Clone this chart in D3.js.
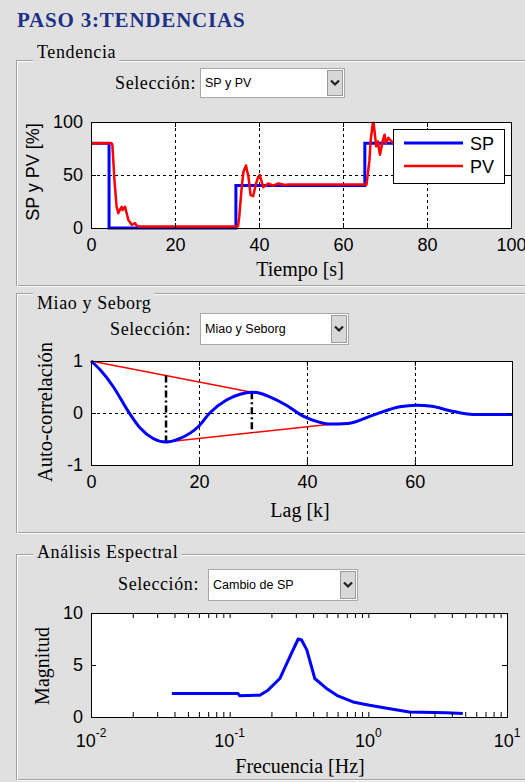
<!DOCTYPE html>
<html>
<head>
<meta charset="utf-8">
<script src="https://cdn.jsdelivr.net/npm/d3@7"></script>
<style>
  body { margin: 0; background: #e0e0e0; }
</style>
</head>
<body>
<div id="canvas"></div>
<script>
// --- Tendencia: SP and PV over time ---
const spTime  = [0, 4.3, 4.3, 34.5, 34.5, 65.2, 65.2, 92];
const spValue = [80, 80, 0, 0, 40, 40, 80, 80];

const pvTime  = [0, 4.9, 5.1, 5.6, 6.1, 6.5, 7.0, 7.3, 7.5, 8.1, 8.9, 9.7, 10.5, 10.9, 11.5,
                 35.0, 35.3, 35.9, 36.3, 36.9, 37.5, 38.0, 38.6, 39.3, 39.8, 40.2, 41.0, 42.2,
                 43.4, 44.6, 46.2, 47.0, 65.6, 66.3, 66.6, 67.1, 67.3, 67.9, 68.3, 68.8, 69.5,
                 69.9, 70.2, 70.8, 71.6, 72.5, 74, 76, 78, 80, 85, 92];
const pvValue = [80, 80, 78, 44, 20, 14, 18, 20, 17, 20, 7.5, 3, 4.5, 2, 1.5,
                 1.5, 10.7, 39, 53, 59, 48, 31, 30, 42, 48, 50, 38.4, 42,
                 40, 42, 40.6, 41, 41, 64, 83, 99, 99, 77, 81.6, 69, 83,
                 88, 80, 85, 81.6, 78, 82, 79, 81, 80, 80, 80];

// --- Miao y Seborg: autocorrelation ---
const acfLag = [0, 1.7, 4.1, 6.9, 9.1, 11.5, 13.9, 16.5, 19.9, 22, 25.1, 27.6, 29.8, 31.3,
                33.1, 36.2, 39.3, 42.1, 43.9, 47.6, 52.3, 57.2, 60.3, 63.1, 66.5, 70.8, 78];
const acfValue = [1, 0.83, 0.51, 0.03, -0.29, -0.49, -0.56, -0.49, -0.26, 0, 0.25, 0.36, 0.4, 0.38,
                  0.31, 0.15, -0.06, -0.17, -0.21, -0.2, -0.04, 0.12, 0.15, 0.13, 0.045, -0.03, -0.03];
const upperLag = [0, 29.8];
const upperValue = [1, 0.4];
const lowerLag = [13.9, 45.7];
const lowerValue = [-0.56, -0.2];
const markLag = [13.9, 29.8];
const markTop = [0.72, 0.4];
const markBottom = [-0.56, -0.38];

// --- Análisis Espectral ---
const freq = [0.0383, 0.115, 0.118, 0.165, 0.189, 0.23, 0.272, 0.312, 0.33, 0.36, 0.411,
              0.499, 0.604, 0.775, 1.02, 1.5, 1.98, 3.64, 4.8];
const magnitude = [2.26, 2.26, 2.05, 2.1, 2.58, 3.7, 5.8, 7.5, 7.4, 6.45, 3.7,
                   2.75, 2.03, 1.45, 1.13, 0.74, 0.48, 0.42, 0.33];

const sans = "'Liberation Sans', Arial, sans-serif";
const serif = "'Liberation Serif', 'Times New Roman', serif";

const svg = d3.select("#canvas").append("svg")
  .attr("width", 525).attr("height", 782);

svg.append("rect").attr("width", 525).attr("height", 782).attr("fill", "#e0e0e0");

// title
svg.append("text")
  .attr("x", 17).attr("y", 27)
  .attr("font-family", serif).attr("font-weight", "bold").attr("font-size", 21)
  .attr("letter-spacing", 0.8)
  .attr("fill", "#1c3187")
  .text("PASO 3:TENDENCIAS");

// etched group box with a title
function panel(top, bottom, title, baseline) {
  const g = svg.append("g");
  g.append("rect").attr("x", 16.5).attr("y", top + 0.5).attr("width", 540).attr("height", bottom - top)
    .attr("fill", "none").attr("stroke", "#a0a0a0");
  g.append("rect").attr("x", 17.5).attr("y", top + 1.5).attr("width", 540).attr("height", bottom - top)
    .attr("fill", "none").attr("stroke", "#ffffff");
  const t = g.append("text")
    .attr("x", 37).attr("y", baseline)
    .attr("font-family", serif).attr("font-size", 18).attr("letter-spacing", 0.6).attr("fill", "#000")
    .text(title);
  const w = t.node().getComputedTextLength();
  g.insert("rect", "text").attr("x", 33).attr("y", top - 2).attr("width", w + 7).attr("height", 5)
    .attr("fill", "#e0e0e0");
}

function dropdown(labelRight, baseline, x0, x1, y0, y1, value) {
  svg.append("text").attr("x", labelRight).attr("y", baseline)
    .attr("text-anchor", "end")
    .attr("font-family", serif).attr("font-size", 18).attr("letter-spacing", 0.6).text("Selección:");
  svg.append("rect").attr("x", x0 + 0.5).attr("y", y0 + 0.5).attr("width", x1 - x0).attr("height", y1 - y0)
    .attr("fill", "#fff").attr("stroke", "#a8a8a8");
  svg.append("text").attr("x", x0 + 5).attr("y", (y0 + y1) / 2 + 4.5)
    .attr("font-family", sans).attr("font-size", 12.5).text(value);
  const bw = 17;
  svg.append("rect").attr("x", x1 - bw + 0.5).attr("y", y0 + 2.5).attr("width", bw - 2).attr("height", y1 - y0 - 4)
    .attr("fill", "#d8d8d8").attr("stroke", "#9a9a9a");
  const cx = x1 - bw / 2 - 0.5, cy = (y0 + y1) / 2;
  svg.append("path")
    .attr("d", `M${cx - 4},${cy - 2} L${cx},${cy + 2} L${cx + 4},${cy - 2}`)
    .attr("fill", "none").attr("stroke", "#202020").attr("stroke-width", 2.2);
}

// white plot area
function axesBox(x, y) {
  const [xl, xr] = x.range();
  const [yb, yt] = y.range();
  const g = svg.append("g");
  g.append("rect").attr("x", xl).attr("y", yt).attr("width", xr - xl).attr("height", yb - yt)
    .attr("fill", "#fff");
  return g;
}

// MATLAB style axes: inward ticks on all four sides, black box
function finishAxes(g, x, y, xTicks, yTicks, xLabels, minor) {
  const [xl, xr] = x.range();
  const [yb, yt] = y.range();
  const style = sel => {
    sel.select(".domain").remove();
    sel.attr("font-family", sans).attr("font-size", 18);
    sel.selectAll("line").attr("stroke", "#000");
  };
  const allX = minor ? minor : xTicks;
  g.append("g").attr("transform", `translate(0,${yb})`)
    .call(d3.axisBottom(x).tickValues(allX).tickSizeInner(-5).tickSizeOuter(0).tickPadding(10)
      .tickFormat(d => (xLabels && xTicks.includes(d)) ? d : ""))
    .call(style);
  g.append("g").attr("transform", `translate(0,${yt})`)
    .call(d3.axisTop(x).tickValues(allX).tickSizeInner(-5).tickSizeOuter(0).tickFormat(""))
    .call(style);
  g.append("g").attr("transform", `translate(${xl},0)`)
    .call(d3.axisLeft(y).tickValues(yTicks).tickSizeInner(-5).tickSizeOuter(0).tickPadding(8)
      .tickFormat(d => String(d)))
    .call(style);
  g.append("g").attr("transform", `translate(${xr},0)`)
    .call(d3.axisRight(y).tickValues(yTicks).tickSizeInner(-5).tickSizeOuter(0).tickFormat(""))
    .call(style);
  g.append("rect").attr("x", xl + 0.5).attr("y", yt + 0.5).attr("width", xr - xl).attr("height", yb - yt)
    .attr("fill", "none").attr("stroke", "#000");
}

function grid(g, x, y, xs, ys) {
  const [xl, xr] = x.range();
  const [yb, yt] = y.range();
  xs.forEach(v => g.append("line").attr("x1", Math.round(x(v)) + 0.5).attr("x2", Math.round(x(v)) + 0.5)
    .attr("y1", yt).attr("y2", yb).attr("stroke", "#000").attr("stroke-dasharray", "3,3"));
  ys.forEach(v => g.append("line").attr("y1", Math.round(y(v)) + 0.5).attr("y2", Math.round(y(v)) + 0.5)
    .attr("x1", xl).attr("x2", xr).attr("stroke", "#000").attr("stroke-dasharray", "3,3"));
}

function yLabel(text, cx, cy, font, size) {
  svg.append("text").attr("transform", `translate(${cx},${cy}) rotate(-90)`)
    .attr("text-anchor", "middle").attr("dy", "0.35em")
    .attr("font-family", font).attr("font-size", size).text(text);
}
function xLabel(text, cx, baseline) {
  svg.append("text").attr("x", cx).attr("y", baseline).attr("text-anchor", "middle")
    .attr("font-family", serif).attr("font-size", 20).text(text);
}

// ---------------- Panel 1: Tendencia ----------------
panel(60, 285, "Tendencia", 58);
dropdown(196, 89, 200, 344, 68, 97, "SP y PV");

const x1 = d3.scaleLinear().domain([0, 100]).range([91, 511]);
const y1 = d3.scaleLinear().domain([0, 100]).range([228, 122]);
const g1 = axesBox(x1, y1);
grid(g1, x1, y1, [20, 40, 60, 80], [50]);

const line1 = d3.line().x(d => x1(d[0])).y(d => y1(d[1]));
g1.append("path").datum(d3.zip(spTime, spValue)).attr("d", line1)
  .attr("fill", "none").attr("stroke", "#0000ff").attr("stroke-width", 3);
g1.append("path").datum(d3.zip(pvTime, pvValue)).attr("d", line1)
  .attr("fill", "none").attr("stroke", "#ff0000").attr("stroke-width", 2.5).attr("stroke-linejoin", "round");
finishAxes(g1, x1, y1, [0, 20, 40, 60, 80, 100], [0, 50, 100], true);

// legend
const legend = svg.append("g");
legend.append("rect").attr("x", 393.5).attr("y", 129.5).attr("width", 111).attr("height", 54)
  .attr("fill", "#fff").attr("stroke", "#000");
[["SP", "#0000ff", 143], ["PV", "#ff0000", 166]].forEach(([name, color, ly]) => {
  legend.append("line").attr("x1", 404).attr("x2", 463).attr("y1", ly).attr("y2", ly)
    .attr("stroke", color).attr("stroke-width", name === "SP" ? 3 : 2.5);
  legend.append("text").attr("x", 470).attr("y", ly + 7)
    .attr("font-family", sans).attr("font-size", 18).text(name);
});

yLabel("SP y PV [%]", 33, 172, sans, 18);
xLabel("Tiempo [s]", 300, 276);

// ---------------- Panel 2: Miao y Seborg ----------------
panel(293, 532, "Miao y Seborg", 309);
dropdown(191, 335, 200, 348, 313, 344, "Miao y Seborg");

const x2 = d3.scaleLinear().domain([0, 78]).range([91, 512]);
const y2 = d3.scaleLinear().domain([-1, 1]).range([465, 361]);
const g2 = axesBox(x2, y2);
grid(g2, x2, y2, [20, 40, 60], [0]);

const line2 = d3.line().x(d => x2(d[0])).y(d => y2(d[1]));
g2.append("path").datum(d3.zip(upperLag, upperValue)).attr("d", line2)
  .attr("fill", "none").attr("stroke", "#ff0000").attr("stroke-width", 1.5);
g2.append("path").datum(d3.zip(lowerLag, lowerValue)).attr("d", line2)
  .attr("fill", "none").attr("stroke", "#ff0000").attr("stroke-width", 1.5);
markLag.forEach((l, i) => {
  g2.append("line").attr("x1", x2(l)).attr("x2", x2(l)).attr("y1", y2(markTop[i])).attr("y2", y2(markBottom[i]))
    .attr("stroke", "#000").attr("stroke-width", 2.5).attr("stroke-dasharray", "7,3,2,3");
});
g2.append("path").datum(d3.zip(acfLag, acfValue)).attr("d", line2.curve(d3.curveMonotoneX))
  .attr("fill", "none").attr("stroke", "#0000ff").attr("stroke-width", 3);
finishAxes(g2, x2, y2, [0, 20, 40, 60], [-1, 0, 1], true);

yLabel("Auto-correlación", 45, 412, serif, 20.5);
xLabel("Lag [k]", 300, 517);

// ---------------- Panel 3: Análisis Espectral ----------------
panel(554, 779, "Análisis Espectral", 558);
dropdown(199, 590, 208, 357, 569, 600, "Cambio de SP");

const x3 = d3.scaleLog().domain([0.01, 10]).range([91, 507]);
const y3 = d3.scaleLinear().domain([0, 10]).range([717, 613]);
const g3 = axesBox(x3, y3);
const decades = [0.01, 0.1, 1, 10];
const minorTicks = [];
[0.01, 0.1, 1].forEach(d => { for (let k = 1; k < 10; k++) minorTicks.push(d * k); });
minorTicks.push(10);

const line3 = d3.line().x(d => x3(d[0])).y(d => y3(d[1]));
g3.append("path").datum(d3.zip(freq, magnitude)).attr("d", line3)
  .attr("fill", "none").attr("stroke", "#0000ff").attr("stroke-width", 3).attr("stroke-linejoin", "round");
finishAxes(g3, x3, y3, decades, [0, 5, 10], false, minorTicks);

decades.forEach(d => {
  const t = g3.append("text").attr("x", x3(d)).attr("y", 747).attr("text-anchor", "middle")
    .attr("font-family", sans).attr("font-size", 18);
  t.append("tspan").text("10");
  t.append("tspan").attr("dy", -10).attr("font-size", 12).text(Math.round(Math.log10(d)));
});

yLabel("Magnitud", 42, 666, serif, 20);
xLabel("Frecuencia [Hz]", 300, 773);
</script>
</body>
</html>
